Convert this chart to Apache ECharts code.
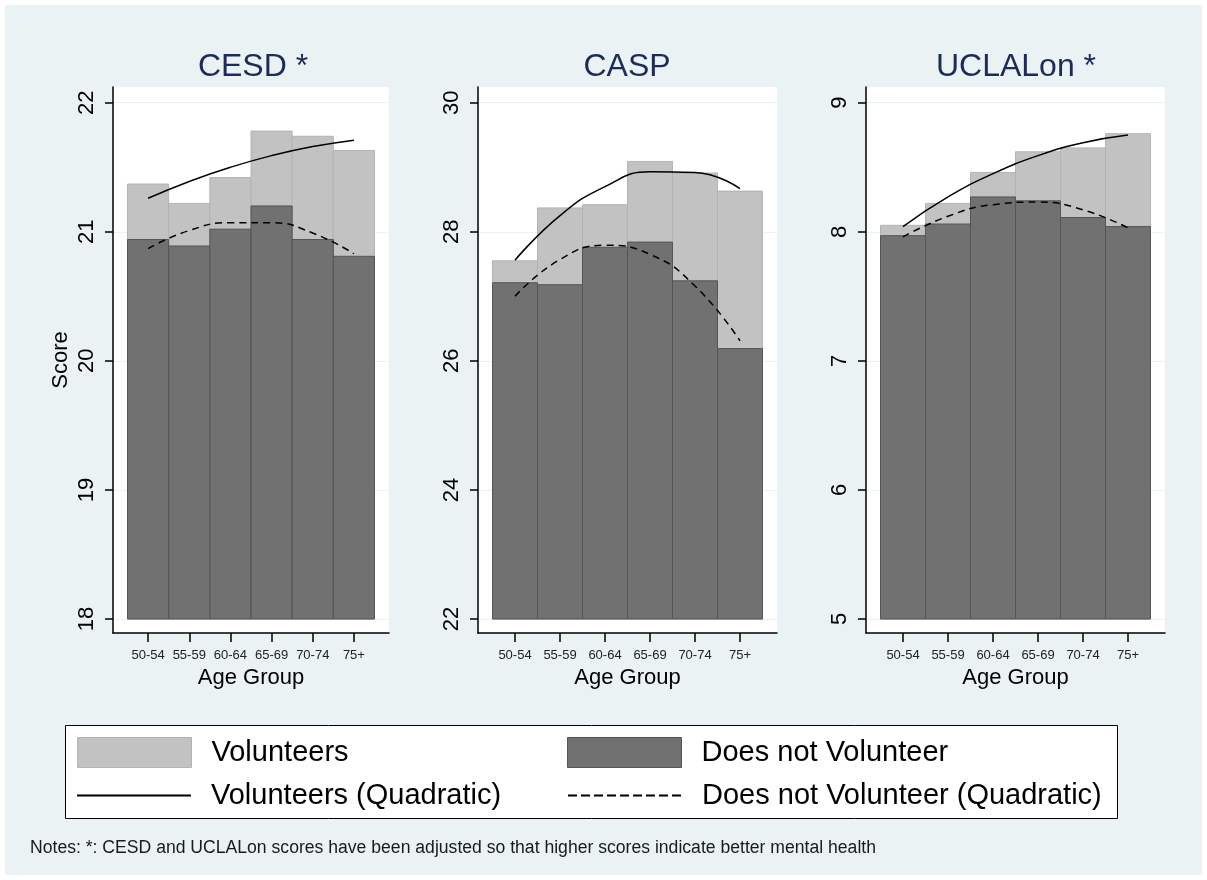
<!DOCTYPE html>
<html><head><meta charset="utf-8">
<script src="https://cdn.jsdelivr.net/npm/echarts@6/dist/echarts.min.js"></script>
<style>html,body{margin:0;padding:0;background:#fff}#c{width:1207px;height:880px}</style>
</head><body><div id="c"></div>
<script>
// ---- data ----
const categories = ['50-54', '55-59', '60-64', '65-69', '70-74', '75+'];

const cesdVol    = [21.37, 21.22, 21.42, 21.78, 21.74, 21.63];
const cesdNon    = [20.94, 20.89, 21.02, 21.20, 20.94, 20.81];
const cesdVolFit = [21.26, 21.39, 21.50, 21.59, 21.66, 21.71];
const cesdNonFit = [20.87, 21.01, 21.07, 21.07, 20.99, 20.83];

const caspVol    = [27.55, 28.37, 28.42, 29.09, 28.91, 28.63];
const caspNon    = [27.21, 27.18, 27.76, 27.84, 27.24, 26.19];
const caspVolFit = [27.56, 28.25, 28.70, 28.93, 28.92, 28.67];
const caspNonFit = [27.00, 27.57, 27.79, 27.65, 27.16, 26.31];

const uclaVol    = [8.05, 8.22, 8.46, 8.62, 8.65, 8.76];
const uclaNon    = [7.97, 8.06, 8.27, 8.24, 8.11, 8.04];
const uclaVolFit = [8.04, 8.27, 8.45, 8.59, 8.69, 8.75];
const uclaNonFit = [7.96, 8.12, 8.21, 8.23, 8.17, 8.03];

const cesdTicks = [18, 19, 20, 21, 22];
const caspTicks = [22, 24, 26, 28, 30];
const uclaTicks = [5, 6, 7, 8, 9];

const panelTitles = ['CESD *', 'CASP', 'UCLALon *'];
const seriesNames = ['Volunteers', 'Does not Volunteer', 'Volunteers (Quadratic)', 'Does not Volunteer (Quadratic)'];
const xAxisName = 'Age Group';
const yAxisName = 'Score';
const noteText = 'Notes: *: CESD and UCLALon scores have been adjusted so that higher scores indicate better mental health';

// ---- layout / style ----
const FONT = "'Liberation Sans', Arial, sans-serif";
const BG = '#eaf2f3';
const LIGHT = '#c2c2c2', LIGHT_B = '#b3b3b3';
const DARK = '#717171', DARK_B = '#555555';
const TOP = 87, HEIGHT = 546, PAD_T = 15.7, PAD_B = 14, PAD_X = 14.5;

const panels = [
  {title: panelTitles[0], ticks: cesdTicks, vol: cesdVol, non: cesdNon, volFit: cesdVolFit, nonFit: cesdNonFit, left: 113, width: 276, tx: 253},
  {title: panelTitles[1], ticks: caspTicks, vol: caspVol, non: caspNon, volFit: caspVolFit, nonFit: caspNonFit, left: 478, width: 299, tx: 627},
  {title: panelTitles[2], ticks: uclaTicks, vol: uclaVol, non: uclaNon, volFit: uclaVolFit, nonFit: uclaNonFit, left: 866, width: 299, tx: 1016}
];
const catIdx = categories.map((c, i) => i);

function barRenderer(base) {
  return function (params, api) {
    const i = api.value(0), v = api.value(1);
    const p0 = api.coord([i - 0.5, base]);
    const p1 = api.coord([i + 0.5, v]);
    return {
      type: 'rect',
      shape: {x: p0[0], y: p1[1], width: p1[0] - p0[0], height: p0[1] - p1[1]},
      style: api.style()
    };
  };
}

const grids = [], xAxes = [], yAxes = [], series = [], titles = [];
panels.forEach((p, k) => {
  grids.push({left: p.left, top: TOP, width: p.width, height: HEIGHT, show: true,
    backgroundColor: '#ffffff', borderWidth: 0});
  const band = (p.width - 2 * PAD_X) / categories.length;
  const t0 = p.ticks[0], tN = p.ticks[p.ticks.length - 1];
  const innerH = HEIGHT - PAD_T - PAD_B;
  const yMin = t0 - PAD_B / innerH * (tN - t0);
  const yMax = tN + PAD_T / innerH * (tN - t0);
  xAxes.push({
    gridIndex: k, type: 'value',
    min: -0.5 - PAD_X / band, max: categories.length - 0.5 + PAD_X / band,
    axisLine: {show: true, onZero: false, lineStyle: {color: '#000', width: 1.5}},
    axisTick: {show: true, length: 9, customValues: catIdx, lineStyle: {color: '#000', width: 1.5}},
    axisLabel: {show: true, customValues: catIdx, formatter: v => categories[Math.round(v)],
      fontSize: 13, color: '#222', margin: 16, fontFamily: FONT},
    splitLine: {show: false},
    name: xAxisName, nameLocation: 'middle', nameGap: 25,
    nameTextStyle: {fontSize: 22, color: '#000', fontFamily: FONT}
  });
  yAxes.push({
    gridIndex: k, type: 'value', min: yMin, max: yMax,
    axisLine: {show: true, onZero: false, lineStyle: {color: '#000', width: 1.5}},
    axisTick: {show: true, length: 8, customValues: p.ticks, lineStyle: {color: '#000', width: 1.5}},
    axisLabel: {show: true, customValues: p.ticks, rotate: 90, fontSize: 22, color: '#000', margin: 15, fontFamily: FONT},
    splitLine: {show: true, lineStyle: {color: BG, width: 1}},
    name: k === 0 ? yAxisName : '', nameLocation: 'middle', nameGap: 41,
    nameTextStyle: {fontSize: 22, color: '#000', fontFamily: FONT}
  });
  series.push({
    name: seriesNames[0], type: 'custom', xAxisIndex: k, yAxisIndex: k, z: 2,
    renderItem: barRenderer(t0), encode: {x: 0, y: 1},
    itemStyle: {color: LIGHT, borderColor: LIGHT_B, borderWidth: 1},
    data: p.vol.map((v, i) => [i, v])
  });
  series.push({
    name: seriesNames[1], type: 'custom', xAxisIndex: k, yAxisIndex: k, z: 3,
    renderItem: barRenderer(t0), encode: {x: 0, y: 1},
    itemStyle: {color: DARK, borderColor: DARK_B, borderWidth: 1},
    data: p.non.map((v, i) => [i, v])
  });
  series.push({
    name: seriesNames[2], type: 'line', xAxisIndex: k, yAxisIndex: k, z: 5,
    symbol: 'none', smooth: true, itemStyle: {color: '#000'},
    lineStyle: {color: '#000', width: 1.5, type: 'solid'},
    data: p.volFit.map((v, i) => [i, v])
  });
  series.push({
    name: seriesNames[3], type: 'line', xAxisIndex: k, yAxisIndex: k, z: 5,
    symbol: 'none', smooth: true, itemStyle: {color: '#000'},
    lineStyle: {color: '#000', width: 1.5, type: [7, 5]},
    data: p.nonFit.map((v, i) => [i, v])
  });
  titles.push({text: p.title, left: p.tx, top: 51, textAlign: 'center', padding: 0,
    textStyle: {fontSize: 32, fontWeight: 'normal', color: '#1c2b59', fontFamily: FONT}});
});
titles.push({text: noteText, left: 30, top: 839, padding: 0,
  textStyle: {fontSize: 17.6, fontWeight: 'normal', color: '#1a1a1a', fontFamily: FONT}});

const legendCommon = {orient: 'horizontal', padding: 0, itemWidth: 114, itemHeight: 30, itemGap: 0,
  textStyle: {fontSize: 29, color: '#000', fontFamily: FONT, padding: [0, 0, 0, 15]}};
const hiddenSymbol = {color: 'rgba(0,0,0,0)', opacity: 0, borderWidth: 0};
const legends = [
  Object.assign({left: 77, top: 737, data: [{name: seriesNames[0], icon: 'rect',
    itemStyle: {color: LIGHT, borderColor: LIGHT_B, borderWidth: 1}}]}, legendCommon),
  Object.assign({left: 567, top: 737, data: [{name: seriesNames[1], icon: 'rect',
    itemStyle: {color: DARK, borderColor: DARK_B, borderWidth: 1}}]}, legendCommon),
  Object.assign({left: 76, top: 781, data: [{name: seriesNames[2], itemStyle: hiddenSymbol,
    lineStyle: {color: '#000', width: 2, type: 'solid'}}]}, legendCommon),
  Object.assign({left: 567, top: 781, data: [{name: seriesNames[3], itemStyle: hiddenSymbol,
    lineStyle: {color: '#000', width: 2, type: [9, 4]}}]}, legendCommon)
];

const chart = echarts.init(document.getElementById('c'), null, {renderer: 'canvas'});
chart.setOption({
  animation: false,
  backgroundColor: '#ffffff',
  textStyle: {fontFamily: FONT},
  graphic: [
    {type: 'rect', z: -100, silent: true, shape: {x: 5, y: 5, width: 1197, height: 870}, style: {fill: BG}},
    {type: 'rect', z: -50, silent: true, shape: {x: 65.5, y: 725.5, width: 1052, height: 93},
      style: {fill: '#ffffff', stroke: '#000', lineWidth: 1}}
  ],
  title: titles,
  legend: legends,
  grid: grids,
  xAxis: xAxes,
  yAxis: yAxes,
  series: series
});
</script></body></html>
